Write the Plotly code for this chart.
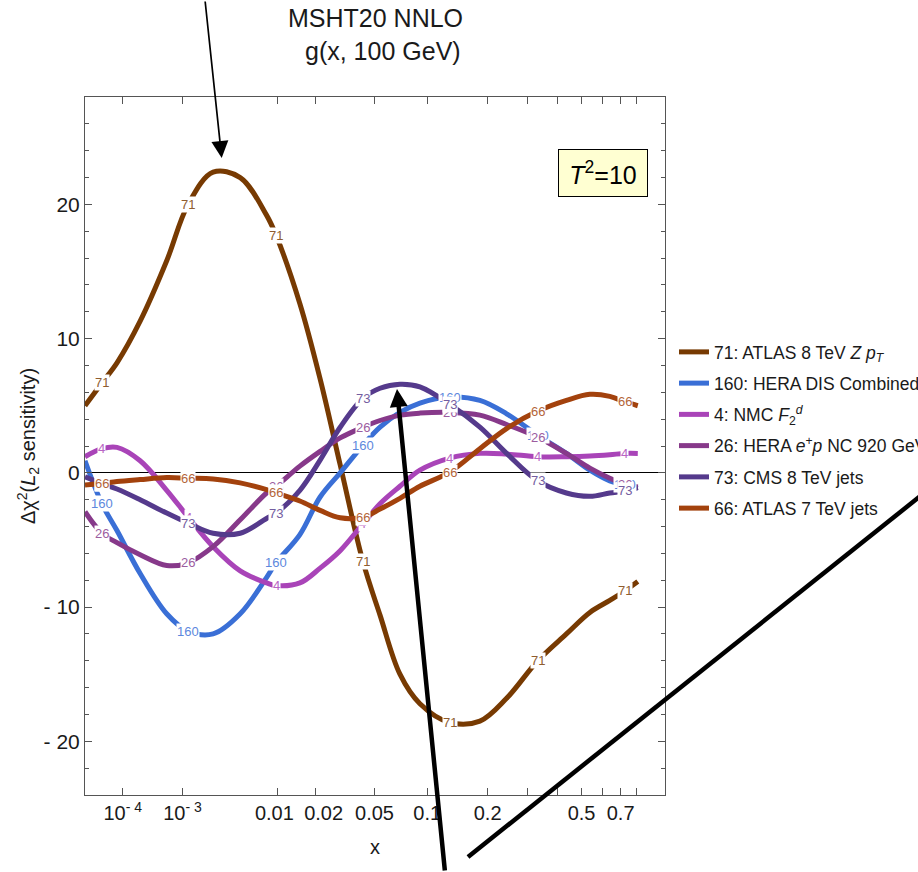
import numpy as np
import plotly.graph_objects as go

# Momentum fraction grid shared by all sensitivity curves
x_grid = [1.0e-5, 3.2e-5, 7.5e-5, 2.2e-4, 6.0e-4, 1.19e-3, 2.38e-3, 4.6e-3,
          8.1e-3, 9.8e-3, 0.0153, 0.0217, 0.030, 0.0423, 0.054, 0.0707,
          0.0914, 0.131, 0.184, 0.244, 0.333, 0.436, 0.538, 0.639, 0.724, 0.806]

# Delta chi^2 (L2 sensitivity) per experiment
dchi2_71 = [5.0, 6.7, 8.2, 11.3, 15.8, 20.0, 22.4, 22.0, 19.2, 17.7, 12.6, 7.0,
            0.6, -6.6, -10.6, -15.0, -17.2, -18.6, -18.5, -16.8, -14.0, -12.0,
            -10.4, -9.5, -8.8, -8.1]
dchi2_160 = [0.9, -2.3, -4.3, -7.5, -10.5, -11.8, -12.0, -10.5, -7.8, -6.7, -4.6,
             -1.8, 0.0, 2.05, 3.4, 4.5, 5.2, 5.65, 5.4, 4.4, 2.8, 1.45, 0.2, -0.6,
             -0.9, -1.15]
dchi2_4 = [1.2, 1.8, 1.9, 0.9, -1.3, -3.3, -5.5, -7.3, -8.2, -8.4, -8.2, -7.1,
           -5.8, -3.8, -2.3, -1.0, 0.2, 1.1, 1.45, 1.4, 1.2, 1.2, 1.25, 1.35,
           1.45, 1.45]
dchi2_26 = [-2.9, -4.5, -5.2, -6.1, -6.9, -6.7, -5.5, -3.5, -1.5, -1.0, 0.5, 1.6,
            2.6, 3.4, 3.9, 4.3, 4.45, 4.5, 4.3, 3.6, 2.65, 1.45, 0.35, -0.4,
            -0.85, -1.05]
dchi2_73 = [-0.3, -0.8, -1.2, -2.0, -3.0, -3.75, -4.5, -4.5, -3.4, -3.0, -1.3,
            0.95, 3.4, 5.55, 6.3, 6.6, 6.4, 5.1, 3.4, 1.45, -0.6, -1.5, -1.75,
            -1.5, -1.35, -1.1]
dchi2_66 = [-0.9, -0.8, -0.65, -0.5, -0.35, -0.4, -0.45, -0.75, -1.25, -1.5, -2.1,
            -2.8, -3.35, -3.3, -2.7, -1.9, -1.0, 0.05, 1.8, 3.3, 4.6, 5.4, 5.85,
            5.7, 5.3, 5.0]

exp_ids = ["71", "160", "4", "26", "73", "66"]
exp_names = [
    "71: ATLAS 8 TeV <i>Z</i> <i>p</i><sub><i>T</i></sub>",
    "160: HERA DIS Combined",
    "4: NMC <i>F</i><sub>2</sub><sup><i>d</i></sup>",
    "26: HERA <i>e</i><sup>+</sup><i>p</i> NC 920 GeV",
    "73: CMS 8 TeV jets",
    "66: ATLAS 7 TeV jets",
]
exp_values = [dchi2_71, dchi2_160, dchi2_4, dchi2_26, dchi2_73, dchi2_66]
exp_colors = ["#773a02", "#3a6fd6", "#a944b8", "#87398a", "#553a8c", "#a3420d"]

# grid points that carry the in-line experiment labels
label_idx = [1, 5, 9, 13, 17, 20, 24]

# x-axis ticks (non-breaking spaces keep the 0.01 / 0.02 labels apart)
tick_x = [1e-4, 1e-3, 0.01, 0.02, 0.05, 0.1, 0.2, 0.3, 0.4, 0.5, 0.6, 0.7, 0.8]
tick_x_text = ["10<sup>- 4</sup>", "10<sup>- 3</sup>", "0.01\u00a0",
               "\u00a0\u00a0\u00a00.02", "0.05", "0.1", "0.2", "", "", "0.5", "",
               "0.7", ""]
tick_y = [-20, -10, 0, 10, 20]
tick_y_text = ["- 20", "- 10", "0", "10", "20"]

FONT = "Liberation Sans, Arial, sans-serif"
W, H = 918, 872
M_L, M_R, M_T, M_B = 85, 253, 97, 77
PW, PH = W - M_L - M_R, H - M_T - M_B


def warp(x):
    """Power-law x scale used by the horizontal axis."""
    return np.power(np.asarray(x, dtype=float), 0.2)


def px_to_paper(px, py):
    return (px - M_L) / PW, (H - M_B - py) / PH


def lighten(hex_color, f=0.18):
    r, g, b = (int(hex_color[i:i + 2], 16) for i in (1, 3, 5))
    r, g, b = (int(c + (255 - c) * f) for c in (r, g, b))
    return f"#{r:02x}{g:02x}{b:02x}"


fig = go.Figure()
u_grid = warp(x_grid)
for i, (name, vals, col) in enumerate(zip(exp_names, exp_values, exp_colors)):
    fig.add_trace(go.Scatter(
        x=u_grid, y=vals, mode="lines", name=name,
        line=dict(color=col, width=5, shape="spline", smoothing=1.0),
        legendgroup=f"g{i}", hoverinfo="skip",
    ))

annotations = []
# in-line labels sitting on each curve
for eid, vals, col in zip(exp_ids, exp_values, exp_colors):
    for k in label_idx:
        annotations.append(dict(
            x=u_grid[k], y=vals[k], xref="x", yref="y", text=eid,
            showarrow=False, xanchor="center", yanchor="middle",
            font=dict(family=FONT, size=13, color=lighten(col)),
            bgcolor="white", borderpad=0,
        ))

# title lines
tx, ty = px_to_paper(375, 18)
annotations.append(dict(x=tx, y=ty, xref="paper", yref="paper", text="MSHT20 NNLO",
                        showarrow=False, xanchor="center", yanchor="middle",
                        font=dict(family=FONT, size=25, color="#1a1a1a")))
tx, ty = px_to_paper(383, 51)
annotations.append(dict(x=tx, y=ty, xref="paper", yref="paper", text="g(x, 100 GeV)",
                        showarrow=False, xanchor="center", yanchor="middle",
                        font=dict(family=FONT, size=25, color="#1a1a1a")))

# tolerance box
tx, ty = px_to_paper(602.5, 173)
annotations.append(dict(x=tx, y=ty, xref="paper", yref="paper",
                        text="<i>T</i><sup>2</sup>=10", showarrow=False,
                        xanchor="center", yanchor="middle",
                        font=dict(family=FONT, size=25, color="black"),
                        bgcolor="#ffffd2", bordercolor="black", borderwidth=1,
                        borderpad=2, width=84, height=42))

# pointer arrows
tip_x, tip_y = px_to_paper(221.7, 158)
annotations.append(dict(x=tip_x, y=tip_y, xref="paper", yref="paper", text="",
                        showarrow=True, ax=205 - 221.7, ay=-2 - 158,
                        axref="pixel", ayref="pixel", arrowhead=2, arrowsize=2.0,
                        arrowwidth=1.7, arrowcolor="black", standoff=0))
tip_x, tip_y = px_to_paper(397, 389)
annotations.append(dict(x=tip_x, y=tip_y, xref="paper", yref="paper", text="",
                        showarrow=True, ax=445 - 397, ay=874 - 389,
                        axref="pixel", ayref="pixel", arrowhead=2, arrowsize=0.8,
                        arrowwidth=4.5, arrowcolor="black", standoff=0))

l0 = px_to_paper(468, 857)
l1 = px_to_paper(930, 857 - 0.798 * (930 - 468))
shapes = [dict(type="line", xref="paper", yref="paper", x0=l0[0], y0=l0[1],
               x1=l1[0], y1=l1[1], line=dict(color="black", width=4.5))]

axis_common = dict(showline=True, linecolor="#555555", linewidth=1, mirror="ticks",
                   ticks="inside", tickcolor="#555555", showgrid=False)

fig.update_layout(
    width=W, height=H,
    margin=dict(l=M_L, r=M_R, t=M_T, b=M_B, autoexpand=False),
    paper_bgcolor="white", plot_bgcolor="white",
    font=dict(family=FONT, color="#1a1a1a"),
    xaxis=dict(range=[warp(1e-5), 1.0], tickmode="array", tickvals=warp(tick_x),
               ticktext=tick_x_text, ticklen=7, tickangle=0, tickfont=dict(size=20),
               title=dict(text="x", font=dict(size=20), standoff=16),
               zeroline=False, **axis_common),
    yaxis=dict(range=[-24, 28], tickmode="array", tickvals=tick_y,
               ticktext=tick_y_text, ticklen=7, tickfont=dict(size=21),
               minor=dict(dtick=2, tick0=0, ticks="inside", ticklen=4,
                          tickcolor="#555555", showgrid=False),
               title=dict(text="Δχ<sup>2</sup>(<i>L</i><sub>2</sub> sensitivity)",
                          font=dict(size=20), standoff=2),
               zeroline=True, zerolinecolor="black", zerolinewidth=1,
               **axis_common),
    legend=dict(x=px_to_paper(674, 0)[0], y=px_to_paper(0, 334)[1],
                xanchor="left", yanchor="top", font=dict(family=FONT, size=17.5),
                bgcolor="rgba(0,0,0,0)", tracegroupgap=5.5),
    annotations=annotations,
    shapes=shapes,
    showlegend=True,
)

fig.write_html("out.html")
